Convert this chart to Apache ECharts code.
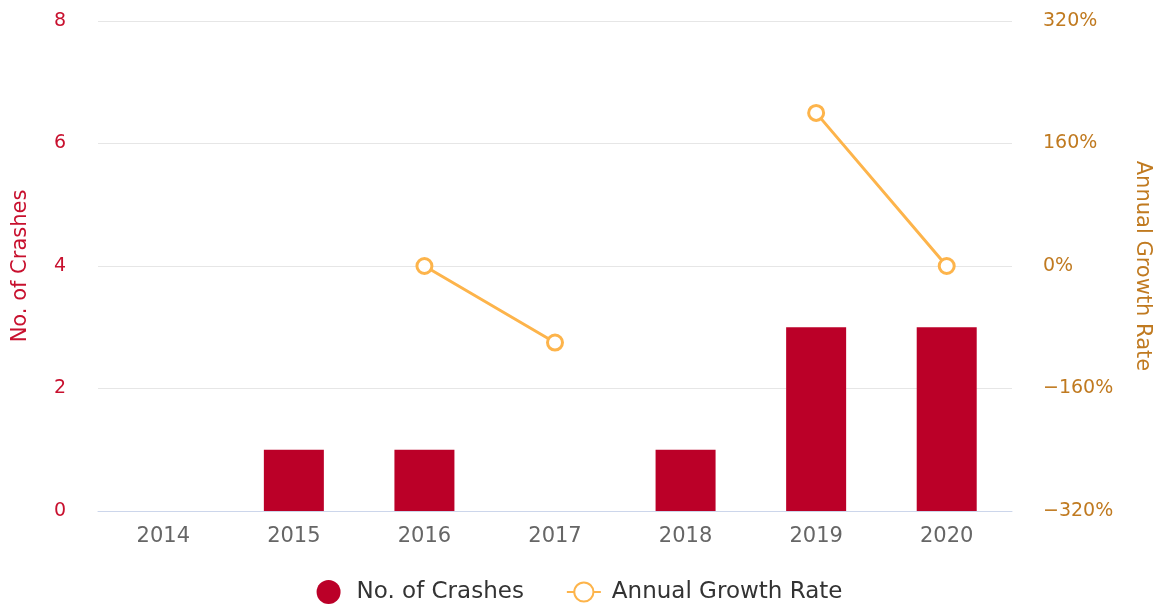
<!DOCTYPE html>
<html>
<head>
<meta charset="utf-8">
<script src="https://cdn.jsdelivr.net/npm/echarts@6/dist/echarts.min.js"></script>
<style>
  html, body { margin: 0; padding: 0; background: #fff; }
  #chart { width: 1159px; height: 607px; }
</style>
</head>
<body>
<div id="chart"></div>
<script>
// data
var years = ['2014', '2015', '2016', '2017', '2018', '2019', '2020']
var crashes = [0, 1, 1, 0, 1, 3, 3]
var growth = [null, null, 0, -100, null, 200, 0]

var font = 'DejaVu Sans'
var chart = echarts.init(document.getElementById('chart'))

chart.setOption({
  animation: false,
  textStyle: { fontFamily: font },
  grid: { left: 98, right: 147, top: 21, bottom: 96, outerBoundsMode: 'none' },
  legend: {
    bottom: -2,
    left: 'center',
    itemGap: 42,
    itemWidth: 34,
    itemHeight: 24,
    textStyle: { fontSize: 23, color: '#333', fontFamily: font, padding: [0, 0, 0, 6] },
    data: [
      { name: 'No. of Crashes', icon: 'circle' },
      { name: 'Annual Growth Rate' }
    ]
  },
  xAxis: {
    type: 'category',
    data: years,
    axisLine: { lineStyle: { color: '#ccd6eb' } },
    axisTick: { show: false },
    axisLabel: { color: '#666', fontSize: 21, margin: 15 }
  },
  yAxis: [
    {
      type: 'value',
      min: 0,
      max: 8,
      interval: 2,
      name: 'No. of Crashes',
      nameLocation: 'middle',
      nameGap: 67,
      nameTextStyle: { color: '#c8102e', fontSize: 21 },
      axisLabel: { color: '#c8102e', fontSize: 19, margin: 32 },
      splitLine: { lineStyle: { color: '#e6e6e6' } }
    },
    {
      type: 'value',
      min: -320,
      max: 320,
      interval: 160,
      name: 'Annual Growth Rate',
      nameLocation: 'middle',
      nameGap: 120,
      nameRotate: -90,
      nameTextStyle: { color: '#c07a20', fontSize: 21 },
      axisLabel: {
        color: '#c07a20', fontSize: 19, margin: 31, align: 'left',
        formatter: function (v) { return (v < 0 ? '\u2212' + (-v) : v) + '%' }
      },
      splitLine: { show: false }
    }
  ],
  series: [
    {
      name: 'No. of Crashes',
      type: 'bar',
      data: crashes,
      barWidth: 60,
      itemStyle: { color: '#bb0028' }
    },
    {
      name: 'Annual Growth Rate',
      type: 'line',
      yAxisIndex: 1,
      data: growth,
      connectNulls: false,
      symbol: 'circle',
      symbolSize: 15,
      lineStyle: { color: '#fdb44b', width: 3 },
      itemStyle: { color: '#fff', borderColor: '#fdb44b', borderWidth: 3 }
    }
  ]
})
</script>
</body>
</html>
